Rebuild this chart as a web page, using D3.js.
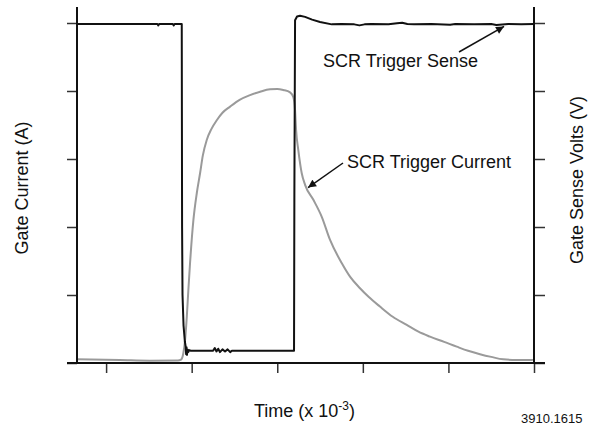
<!DOCTYPE html>
<html>
<head>
<meta charset="utf-8">
<script src="https://cdn.jsdelivr.net/npm/d3@7"></script>
<style>
  body { margin: 0; background: #fff; }
  svg { display: block; font-family: "Liberation Sans", Arial, sans-serif; }
</style>
</head>
<body>
<script>
// time in units of 10^-3 s (tick marks unlabelled in the original)
var timeTicks = [0, 1, 2, 3, 4, 5];
var levelTicks = [0, 1, 2, 3, 4, 5];

// SCR Trigger Sense (black trace)
var senseTime = [-0.34, 0.30, 0.60, 0.61, 0.62, 0.78, 0.79, 0.80, 0.884, 0.888, 0.893, 0.905, 0.92, 0.93,
  0.935, 0.94, 0.945, 0.95, 0.96, 0.97, 0.99, 1.25, 1.27, 1.29, 1.31, 1.33, 1.36, 1.39, 1.42, 1.45, 1.47,
  2.196, 2.20, 2.208, 2.231, 2.266, 2.325, 2.407, 2.50, 2.637, 2.75, 2.90, 2.96, 3.02, 3.10, 3.30, 3.40,
  3.46, 3.52, 3.60, 3.80, 4.02, 4.08, 4.30, 4.50, 4.56, 4.70, 4.85, 5.0];
var senseVolts = [4.985, 4.985, 4.985, 4.965, 4.985, 4.985, 4.965, 4.985, 4.985, 1.985, 1.0, 0.55, 0.32, 0.24,
  0.13, 0.23, 0.12, 0.2, 0.16, 0.19, 0.18, 0.18, 0.22, 0.17, 0.21, 0.16, 0.2, 0.17, 0.2, 0.16, 0.18,
  0.18, 2.5, 5.04, 5.095, 5.107, 5.09, 5.05, 5.015, 4.98, 4.985, 4.98, 4.965, 4.98, 4.985, 4.98, 4.995,
  5.005, 4.985, 4.98, 4.985, 4.975, 4.985, 4.98, 4.985, 4.97, 4.985, 4.98, 4.985];

// SCR Trigger Current (grey trace)
var currentTime = [-0.34, 0.16, 0.51, 0.84, 0.876, 0.903, 0.923, 0.943, 0.961, 0.981, 1.02, 1.06, 1.098,
  1.13, 1.176, 1.23, 1.293, 1.36, 1.449, 1.56, 1.682, 1.80, 1.916, 2.0, 2.071, 2.15, 2.188, 2.208, 2.22,
  2.246, 2.286, 2.325, 2.422, 2.52, 2.617, 2.753, 2.85, 2.967, 3.07, 3.2, 3.35, 3.513, 3.65, 3.785, 3.95,
  4.097, 4.23, 4.369, 4.5, 4.641, 4.8, 4.973, 5.0];
var gateCurrent = [0.054, 0.044, 0.034, 0.037, 0.05, 0.147, 0.34, 0.68, 1.07, 1.47, 2.10, 2.5, 2.79,
  3.05, 3.28, 3.44, 3.57, 3.68, 3.77, 3.87, 3.94, 3.99, 4.025, 4.03, 4.015, 3.98, 3.91, 3.72, 3.43,
  3.13, 2.79, 2.62, 2.40, 2.15, 1.81, 1.47, 1.27, 1.10, 0.97, 0.83, 0.68, 0.56, 0.46, 0.387, 0.31,
  0.24, 0.18, 0.13, 0.09, 0.054, 0.045, 0.044, 0.05];

var width = 594, height = 432;

var svg = d3.select("body").append("svg")
    .attr("width", width)
    .attr("height", height);

svg.append("rect").attr("width", width).attr("height", height).attr("fill", "#fff");

var x = d3.scaleLinear().domain([-0.34, 5]).range([77, 534]);
var y = d3.scaleLinear().domain([0, 5]).range([363, 23]);   // Gate Current (A)
var y2 = d3.scaleLinear().domain([0, 5]).range([363, 23]);  // Gate Sense Volts (V)

var sense = senseTime.map((t, i) => ({t: t, v: senseVolts[i]}));
var current = currentTime.map((t, i) => ({t: t, v: gateCurrent[i]}));

// ticks
svg.append("g")
    .attr("transform", "translate(" + x(-0.34) + ",0)")
    .call(d3.axisLeft(y).tickValues(levelTicks).tickSize(10).tickFormat(""))
    .call(g => g.select(".domain").remove())
    .selectAll("line").attr("stroke", "#333").attr("stroke-width", 1.5);

svg.append("g")
    .attr("transform", "translate(" + x(5) + ",0)")
    .call(d3.axisRight(y2).tickValues(levelTicks).tickSize(11).tickFormat(""))
    .call(g => g.select(".domain").remove())
    .selectAll("line").attr("stroke", "#333").attr("stroke-width", 1.5);

svg.append("g")
    .attr("transform", "translate(0," + y(0) + ")")
    .call(d3.axisBottom(x).tickValues(timeTicks).tickSize(10).tickFormat(""))
    .call(g => g.select(".domain").remove())
    .selectAll("line").attr("stroke", "#333").attr("stroke-width", 1.5);

// traces
svg.append("path")
    .datum(current)
    .attr("d", d3.line().curve(d3.curveMonotoneX).x(d => x(d.t)).y(d => y(d.v)))
    .attr("fill", "none")
    .attr("stroke", "#9a9a9a")
    .attr("stroke-width", 2)
    .attr("stroke-linejoin", "round");

svg.append("path")
    .datum(sense)
    .attr("d", d3.line().x(d => x(d.t)).y(d => y2(d.v)))
    .attr("fill", "none")
    .attr("stroke", "#111")
    .attr("stroke-width", 2)
    .attr("stroke-linejoin", "round");

// axis lines
var axisTop = y(5.235);
svg.append("line")
    .attr("x1", x(-0.34)).attr("x2", x(-0.34))
    .attr("y1", axisTop).attr("y2", y(0))
    .attr("stroke", "#111").attr("stroke-width", 2);
svg.append("line")
    .attr("x1", x(5)).attr("x2", x(5))
    .attr("y1", axisTop).attr("y2", y(0))
    .attr("stroke", "#111").attr("stroke-width", 2);
svg.append("line")
    .attr("x1", x(-0.34) - 10).attr("x2", x(5) + 11)
    .attr("y1", y(0)).attr("y2", y(0))
    .attr("stroke", "#111").attr("stroke-width", 2);

// arrows
svg.append("defs").append("marker")
    .attr("id", "head")
    .attr("viewBox", "0 0 10 10")
    .attr("refX", 10).attr("refY", 5)
    .attr("markerWidth", 10).attr("markerHeight", 8)
    .attr("markerUnits", "userSpaceOnUse")
    .attr("orient", "auto")
    .append("path").attr("d", "M0,0L10,5L0,10z").attr("fill", "#111");

svg.append("line")
    .attr("x1", 459).attr("y1", 52)
    .attr("x2", x(4.65)).attr("y2", y2(4.95))
    .attr("stroke", "#111").attr("stroke-width", 1.5)
    .attr("marker-end", "url(#head)");

svg.append("line")
    .attr("x1", 343).attr("y1", 163)
    .attr("x2", x(2.36)).attr("y2", y(2.58))
    .attr("stroke", "#111").attr("stroke-width", 1.5)
    .attr("marker-end", "url(#head)");

// annotations
svg.append("text")
    .attr("x", 323).attr("y", 67)
    .style("font-size", "18px")
    .attr("fill", "#111")
    .text("SCR Trigger Sense");

svg.append("text")
    .attr("x", 347).attr("y", 168)
    .style("font-size", "18px")
    .attr("fill", "#111")
    .text("SCR Trigger Current");

// axis labels
svg.append("text")
    .attr("transform", "translate(28,188) rotate(-90)")
    .style("text-anchor", "middle")
    .style("font-size", "18px")
    .attr("fill", "#111")
    .text("Gate Current (A)");

svg.append("text")
    .attr("transform", "translate(583,180) rotate(-90)")
    .style("text-anchor", "middle")
    .style("font-size", "18px")
    .attr("fill", "#111")
    .text("Gate Sense Volts (V)");

var tl = svg.append("text")
    .attr("x", 254).attr("y", 417)
    .style("font-size", "18px")
    .attr("fill", "#111");
tl.append("tspan").text("Time (x 10");
tl.append("tspan").attr("dy", -7).style("font-size", "12px").text("-3");
tl.append("tspan").attr("dy", 7).text(")");

svg.append("text")
    .attr("x", 521).attr("y", 423)
    .style("font-size", "13px")
    .attr("fill", "#111")
    .text("3910.1615");
</script>
</body>
</html>
